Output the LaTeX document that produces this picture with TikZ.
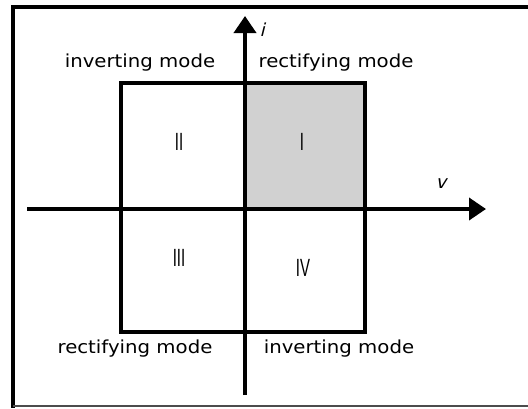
\documentclass[tikz,border=0pt]{standalone}
\usepackage{fontspec}
\setmainfont{DejaVu Sans}[FakeStretch=1.1]
\newfontfamily\numfont{Liberation Sans}
\newfontfamily\varfont{DejaVu Sans}[FakeSlant=0.25]
\usetikzlibrary{arrows.meta}
\begin{document}
\begin{tikzpicture}[x=1bp,y=-1bp,
  frameline/.style={line width=3.2bp},
  axisline/.style={line width=3.8bp,-{Triangle[length=17bp,width=22bp]}},
  quadbox/.style={line width=3.6bp},
  modelabel/.style={font=\fontsize{18}{18}\selectfont,anchor=base,inner sep=0pt},
  numlabel/.style={font=\numfont\fontsize{25}{25}\selectfont,inner sep=0pt,xscale=0.6},
  varlabel/.style={font=\varfont\fontsize{18}{18}\selectfont,inner sep=0pt}]
\useasboundingbox (0,0) rectangle (528,408);
% outer frame
\draw[frameline] (528,7) -- (13,7) -- (13,408);
\draw[line width=2.4bp,black!70] (13,406) -- (528,406);
% shaded quadrant I
\fill[black!18] (245,83) rectangle (365,209);
% square
\draw[quadbox] (121,83) rectangle (365,332);
% axes
\coordinate (vstart) at (27,209);
\coordinate (vend) at (486,209);
\coordinate (istart) at (245,395);
\coordinate (iend) at (245,16);
\draw[axisline] (vstart) -- (vend);
\draw[axisline] (istart) -- (iend);
% axis labels
\node[varlabel] (ilab) at (262,30) {i};
\node[varlabel] (vlab) at (441,184) {v};
% mode labels
\node[modelabel] (invtop) at (140,67) {inverting mode};
\node[modelabel] (rectop) at (336,67) {rectifying mode};
\node[modelabel] (recbot) at (135,353) {rectifying mode};
\node[modelabel] (invbot) at (339,353) {inverting mode};
% quadrant numerals
\node[numlabel] (q2) at (179,142) {II};
\node[numlabel] (q1) at (302,142) {I};
\node[numlabel] (q3) at (179,258) {III};
\node[numlabel] (q4) at (303,268) {IV};
\end{tikzpicture}
\end{document}
